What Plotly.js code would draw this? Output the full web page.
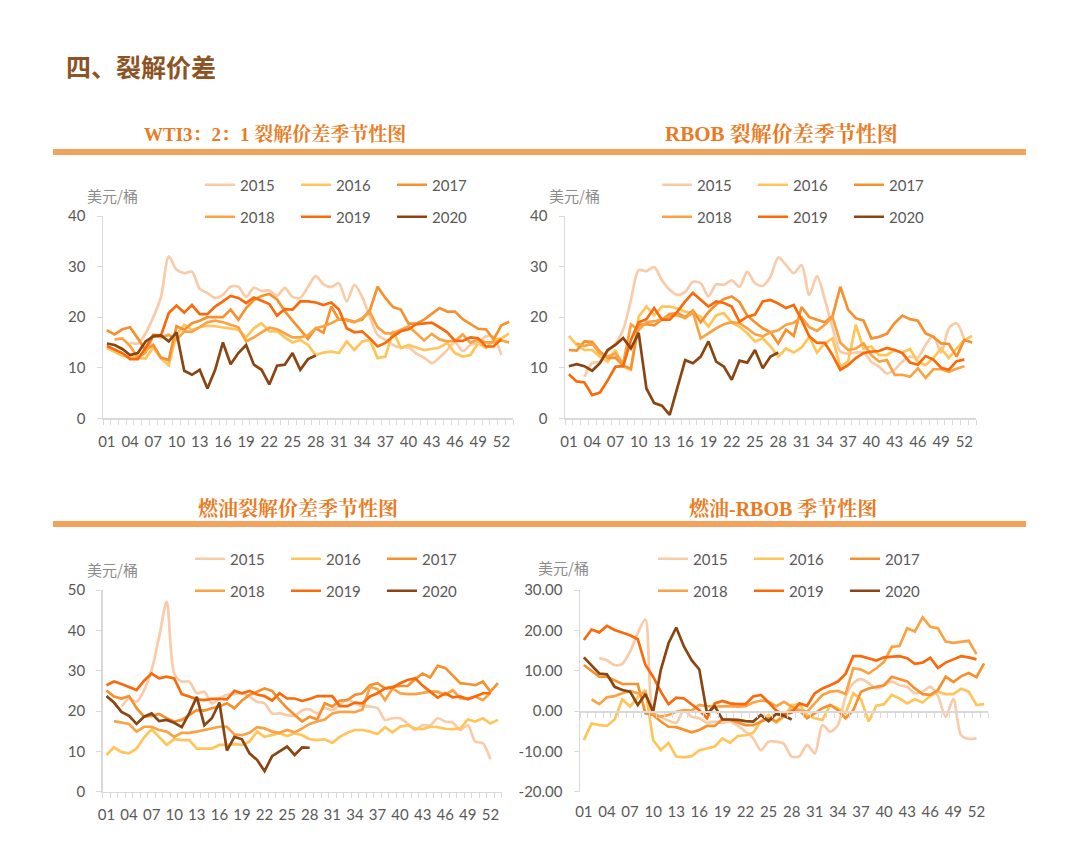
<!DOCTYPE html>
<html><head><meta charset="utf-8">
<script src="https://cdn.plot.ly/plotly-3.0.1.min.js"></script>
<style>html,body{margin:0;padding:0;background:#fff;}#chart{width:1080px;height:858px;}</style>
</head><body><div id="chart"></div>
<script>
// ---------- categories ----------
const weeks = [1,2,3,4,5,6,7,8,9,10,11,12,13,14,15,16,17,18,19,20,21,22,23,24,25,26,27,28,29,30,31,32,33,34,35,36,37,38,39,40,41,42,43,44,45,46,47,48,49,50,51,52,53];
const tickWeeks = [1,4,7,10,13,16,19,22,25,28,31,34,37,40,43,46,49,52];
const tickWeekLabels = ['01','04','07','10','13','16','19','22','25','28','31','34','37','40','43','46','49','52'];
const years = ['2015','2016','2017','2018','2019','2020'];

// ---------- WTI 3:2:1 crack ----------
const wti2015 = [null,null,null,15.0,14.8,16.8,20.0,24.0,32.0,29.4,28.7,29.0,25.6,24.8,23.8,24.4,26.0,26.0,24.0,25.8,25.2,25.3,24.2,25.8,24.0,23.8,26.0,28.1,26.5,26.0,26.7,23.1,26.4,24.0,20.0,16.5,15.5,14.5,14.0,14.0,12.8,12.0,10.9,12.0,13.5,15.0,13.3,14.5,15.0,16.2,16.0,12.5,null];
const wti2016 = [13.9,13.2,12.4,12.2,12.0,11.8,14.0,11.8,10.5,16.5,18.5,17.5,18.0,18.3,18.2,18.0,17.8,17.5,16.0,17.8,18.8,17.2,17.2,16.0,15.0,15.5,14.5,12.5,13.0,13.2,12.9,15.2,13.5,15.2,15.5,11.9,12.2,17.3,13.9,14.5,14.0,13.5,13.7,14.0,14.9,12.9,12.2,12.5,14.9,13.9,15.5,15.8,16.8];
const wti2017 = [17.4,16.6,17.6,18.0,15.8,13.5,14.5,12.0,11.5,18.2,17.5,18.8,19.3,20.0,20.0,20.0,21.5,19.5,21.8,23.4,24.2,24.6,23.5,21.2,19.3,17.5,15.7,17.8,16.9,22.1,19.5,19.5,19.1,19.5,21.4,26.0,23.8,22.0,21.5,18.7,18.7,19.5,20.6,21.8,21.1,21.1,19.6,18.6,17.7,17.6,15.6,18.4,19.1];
const wti2018 = [null,15.6,15.8,14.3,12.0,13.0,16.4,16.0,16.5,15.5,17.2,17.1,18.0,19.0,19.3,19.0,18.5,18.0,15.2,16.0,17.0,17.9,17.6,16.8,16.0,16.0,16.4,17.8,18.2,18.8,19.6,19.4,19.0,19.8,21.0,18.0,16.8,16.8,17.5,18.2,16.8,15.4,16.7,15.6,15.2,15.3,16.6,14.9,15.6,15.0,15.0,15.4,15.0];
const wti2019 = [14.3,13.6,12.9,11.7,11.7,13.9,16.5,16.4,20.8,22.3,20.9,22.4,20.6,20.6,22.1,23.1,24.2,23.8,22.8,23.9,23.2,22.6,20.3,21.6,21.5,23.1,23.1,22.9,22.4,22.9,21.5,17.8,17.0,17.2,15.8,14.2,14.9,16.2,17.2,17.6,18.6,18.8,18.9,18.0,17.0,15.3,15.3,16.0,15.8,14.2,14.2,15.7,null];
const wti2020 = [14.8,14.5,13.7,12.5,12.9,15.2,16.2,16.4,15.2,17.0,9.4,8.6,9.6,5.9,9.6,15.0,10.7,12.9,14.5,10.6,9.6,6.7,10.4,10.6,12.9,9.6,11.7,12.4];

// ---------- RBOB crack ----------
const rbob2015 = [null,null,8.2,10.9,11.2,13.2,14.8,17.5,23.4,29.3,29.1,29.9,27.3,25.4,24.4,25.0,27.0,26.7,24.1,26.5,26.4,27.3,26.0,29.0,26.7,26.2,28.0,31.8,30.3,28.7,30.3,24.4,28.1,23.5,18.0,13.2,12.8,13.0,13.0,11.2,10.2,8.9,9.6,11.2,12.2,12.0,14.5,16.3,13.0,17.8,18.8,15.5,null];
const rbob2016 = [16.3,14.5,13.5,13.5,12.2,11.2,13.5,10.2,9.6,20.1,22.1,20.4,22.1,22.1,21.7,21.1,20.8,20.1,18.1,20.4,20.8,18.9,18.1,16.8,15.2,15.8,14.2,12.2,13.8,13.0,14.0,16.1,13.0,14.8,15.8,10.2,11.2,18.5,13.8,14.2,12.5,12.5,13.5,13.0,13.7,11.2,10.5,11.9,13.8,11.9,13.8,15.5,16.3];
const rbob2017 = [13.5,13.4,15.2,15.1,13.2,11.9,12.0,10.4,9.8,18.5,18.6,18.4,19.5,20.6,20.8,20.0,21.3,19.0,21.0,22.5,23.6,24.1,23.0,20.3,19.0,17.8,17.0,14.8,17.5,16.3,22.0,20.0,19.5,19.0,20.2,26.0,21.5,19.8,19.3,15.8,16.1,16.7,18.8,20.3,19.6,19.3,16.8,16.1,14.8,14.7,12.2,15.5,15.0];
const rbob2018 = [null,14.8,14.3,14.8,12.8,12.2,12.8,10.8,18.6,17.5,19.0,19.2,19.5,20.2,20.4,19.8,21.0,15.8,16.8,17.8,18.6,19.0,18.8,17.8,16.6,16.2,17.0,17.4,18.5,18.9,20.0,18.0,17.3,18.5,20.0,15.0,13.5,13.8,14.8,12.5,11.2,11.5,8.6,8.6,8.2,9.9,8.0,9.7,9.7,9.2,9.8,10.3,null];
const rbob2019 = [8.7,7.3,7.1,4.6,5.1,7.5,10.2,10.3,15.5,19.0,19.6,21.8,19.5,19.5,21.1,23.1,24.8,23.4,22.1,23.1,22.8,22.1,19.1,20.1,20.5,23.1,23.4,22.7,21.8,22.4,19.5,16.2,14.9,14.9,12.5,9.6,10.5,11.9,12.9,13.2,13.3,13.9,13.5,12.9,11.0,10.6,12.3,11.6,10.0,9.6,11.3,11.6,null];
const rbob2020 = [10.3,10.7,10.3,9.4,10.9,13.5,14.5,15.9,13.8,16.9,5.9,3.0,2.5,0.7,6.1,11.5,10.9,12.2,15.2,11.2,10.2,7.6,11.4,11.0,13.5,9.9,12.2,13.0];

// ---------- Fuel oil crack ----------
const fo2015 = [null,null,21.1,23.1,22.3,25.2,30.2,38.4,47.1,29.3,27.3,27.3,24.4,24.8,21.9,23.1,24.0,24.2,24.4,23.6,22.3,21.9,19.4,19.4,19.0,18.8,20.2,20.4,19.4,20.7,20.2,21.5,22.9,21.9,21.2,21.1,20.7,17.8,18.2,18.2,16.9,15.3,16.5,16.4,18.2,17.4,17.1,15.3,16.5,12.4,12.0,8.0,null];
const fo2016 = [9.1,11.0,9.8,9.5,10.7,13.5,15.5,13.6,11.6,13.0,12.8,12.8,10.7,10.7,10.7,11.6,11.6,11.8,11.6,12.4,14.9,13.6,14.0,14.5,13.8,14.5,14.0,13.0,12.8,13.0,12.1,13.6,14.6,15.3,15.3,14.9,14.3,16.0,14.7,16.1,16.5,15.7,15.5,16.1,16.0,15.6,15.5,15.7,17.9,17.4,18.2,16.9,17.8];
const fo2017 = [25.1,23.6,23.1,23.7,20.7,18.6,18.8,19.3,18.2,17.4,17.8,19.0,20.2,20.1,20.7,21.1,21.9,20.7,22.6,24.0,24.8,25.6,25.0,22.7,20.7,19.0,17.4,18.6,17.9,21.9,21.1,22.6,22.7,24.0,24.4,26.4,26.9,25.6,26.0,26.2,26.2,27.9,29.3,28.3,31.2,30.7,28.7,26.9,26.7,26.4,27.3,24.8,26.9];
const fo2018 = [null,17.5,17.1,16.8,14.9,16.1,16.1,15.3,14.9,13.6,14.6,14.6,14.9,15.3,15.7,16.1,16.1,14.2,14.0,14.6,16.0,15.7,14.9,14.6,15.3,14.7,15.7,16.8,17.4,17.9,19.4,19.8,19.8,19.7,20.4,26.0,25.4,22.7,25.6,24.4,24.2,24.2,24.5,24.8,24.8,24.0,25.2,23.1,23.1,23.6,22.7,24.5,null];
const fo2019 = [26.4,27.3,26.7,26.0,25.2,27.5,29.3,28.1,28.5,28.1,24.2,23.6,22.9,22.7,23.0,23.0,22.9,25.0,24.4,25.0,24.1,23.7,22.6,24.4,23.1,23.1,22.5,23.0,23.7,23.7,23.7,21.2,21.2,22.1,21.9,23.6,24.4,25.6,25.8,26.9,27.7,28.1,26.3,24.8,23.3,24.4,23.4,23.6,22.9,23.6,24.4,24.4,null];
const fo2020 = [23.7,22.1,19.8,18.8,16.8,18.6,19.4,17.5,17.8,17.1,16.0,19.5,23.5,16.5,18.2,22.1,10.2,13.6,13.0,9.5,7.9,5.1,8.8,9.9,11.2,9.1,11.0,10.9];

// ---------- Fuel oil - RBOB ----------
const fr2015 = [null,null,13.1,12.6,11.4,11.7,14.7,19.3,22.7,-0.2,-1.4,-2.4,-2.9,0.2,-1.4,-1.8,-2.9,-2.6,-2.9,-2.6,-3.7,-5.1,-6.8,-9.7,-7.6,-7.6,-8.2,-11.3,-11.2,-8.4,-10.5,-3.5,-5.1,-3.5,3.6,6.9,7.9,6.9,5.6,6.4,7.3,6.4,6.0,4.4,4.8,6.0,3.7,-1.4,3.0,-6.0,-6.9,-6.8,null];
const fr2016 = [-7.2,-3.1,-3.5,-3.7,-2.1,2.9,1.1,3.4,5.2,-7.2,-9.7,-7.9,-11.3,-11.5,-11.2,-9.7,-9.3,-8.8,-6.8,-7.9,-6.2,-6.0,-5.4,-2.6,-1.0,-2.9,-1.4,1.5,1.7,-1.0,-1.8,-2.2,1.5,0.7,-0.6,4.4,2.9,-2.6,1.3,1.7,4.0,3.1,1.9,2.9,2.1,3.7,4.8,4.2,4.2,5.5,4.8,1.5,1.7];
const fr2017 = [11.4,10.0,8.5,8.5,7.7,6.7,6.7,6.7,-0.6,-1.0,-2.6,-3.9,-4.0,-4.7,-5.3,-4.7,-3.7,-3.7,-2.1,-2.2,-2.9,-3.5,-3.5,-2.6,-1.8,-2.6,-1.0,0.2,0.2,-1.8,-0.6,0.7,1.5,0.2,-1.8,0.2,4.8,5.6,6.0,6.4,8.5,7.9,7.3,5.6,4.2,4.0,5.2,8.5,7.2,8.6,9.4,8.4,11.8];
const fr2018 = [null,2.9,1.7,3.4,3.7,4.4,5.0,4.4,4.5,-0.8,-1.4,-1.0,-0.2,0.2,0.1,1.5,1.2,1.1,1.2,1.2,1.1,1.2,2.1,2.6,2.3,1.2,2.3,1.1,0.2,-0.2,1.9,4.0,4.8,5.0,4.2,10.6,10.3,9.3,10.6,12.2,15.9,16.1,20.5,19.7,23.2,20.9,20.5,17.2,16.9,17.2,17.4,14.1,null];
const fr2019 = [17.6,20.2,19.5,21.1,20.1,19.4,18.8,17.8,11.4,8.5,4.8,1.7,3.3,3.1,1.7,0.2,-1.8,1.9,2.5,1.9,1.7,1.7,3.6,4.0,2.1,0.1,-0.8,-0.4,1.9,1.3,4.4,5.6,6.4,7.3,9.2,13.6,13.6,13.1,12.5,13.3,13.5,13.6,13.1,11.7,12.0,13.2,10.7,12.0,12.8,13.6,13.3,12.8,null];
const fr2020 = [13.3,11.2,9.3,9.1,6.0,5.2,4.8,1.5,4.2,-0.2,10.2,16.8,20.7,16.0,12.6,10.3,-0.6,1.2,-2.1,-2.1,-2.2,-2.5,-2.6,-1.0,-2.5,-0.7,-1.2,-2.1];

const fr4TickVals = [-20,-10,0,10,20,30];
const fr4TickText = ['-20.00','-10.00','0.00','10.00','20.00','30.00'];

// ---------- styling ----------
const yearColors = ['#F9CBA8','#FFC55A','#F5922F','#FAA344','#FA6A0A','#8A4512'];
const W = 1080, H = 858;
const fx = px => px / W;
const fy = py => 1 - py / H;
const tickFont = {family: 'Lato, "Liberation Sans", sans-serif', size: 15, color: '#595959'};
const gridGrey = '#d9d9d9';

const charts = [
  {series:[wti2015,wti2016,wti2017,wti2018,wti2019,wti2020], xa:'x', ya:'y', legends:['legend','legend2']},
  {series:[rbob2015,rbob2016,rbob2017,rbob2018,rbob2019,rbob2020], xa:'x2', ya:'y2', legends:['legend3','legend4']},
  {series:[fo2015,fo2016,fo2017,fo2018,fo2019,fo2020], xa:'x3', ya:'y3', legends:['legend5','legend6']},
  {series:[fr2015,fr2016,fr2017,fr2018,fr2019,fr2020], xa:'x4', ya:'y4', legends:['legend7','legend8']}
];

const traces = [];
charts.forEach(c => {
  c.series.forEach((s, j) => {
    traces.push({
      type: 'scatter', mode: 'lines', name: years[j],
      x: weeks, y: s, xaxis: c.xa, yaxis: c.ya,
      legend: c.legends[j < 3 ? 0 : 1],
      line: {color: yearColors[j], width: 2.7, shape: j === 0 ? 'spline' : 'linear', smoothing: 0.8},
      connectgaps: false, hoverinfo: 'skip'
    });
  });
});
// label-only bottom axis of chart 4 needs a (blank) trace to exist
traces.push({type:'scatter', mode:'lines', x:[null], y:[null], xaxis:'x5', yaxis:'y4', showlegend:false, hoverinfo:'skip'});

function xAxis(d0, d1, anchor, extra) {
  return Object.assign({
    domain: [fx(d0), fx(d1)], anchor: anchor, range: [0.5, 53.5],
    tickmode: 'array', tickvals: tickWeeks, ticktext: tickWeekLabels,
    ticks: '', showline: true, linecolor: gridGrey, linewidth: 1.5,
    showgrid: false, zeroline: false, tickfont: tickFont, ticklabelstandoff: 9,
    minor: {tickmode: 'linear', tick0: 0.5, dtick: 1, ticks: 'outside', ticklen: 5, tickcolor: gridGrey, tickwidth: 1, showgrid: false},
    fixedrange: true
  }, extra || {});
}
function yAxis(p0, p1, anchor, range, extra) {
  return Object.assign({
    domain: [fy(p0), fy(p1)], anchor: anchor, range: range,
    tickmode: 'linear', tick0: 0, dtick: 10,
    ticks: 'outside', ticklen: 5, tickcolor: gridGrey, tickwidth: 1,
    showline: true, linecolor: gridGrey, linewidth: 1.5,
    showgrid: false, zeroline: false, tickfont: tickFont, ticklabelstandoff: 8,
    fixedrange: true
  }, extra || {});
}

function legendAt(px, py) {
  return {
    orientation: 'h', x: fx(px), y: fy(py), xanchor: 'left', yanchor: 'middle',
    bgcolor: 'rgba(0,0,0,0)', borderwidth: 0,
    font: {family: 'Lato, "Liberation Sans", sans-serif', size: 15, color: '#595959'},
    entrywidth: 51, entrywidthmode: 'pixels', itemwidth: 30, traceorder: 'normal'
  };
}

const zeroPos = fy(791.7) + (fy(590) - fy(791.7)) * (20 / 50);

const subFont = {family: '"Liberation Serif", "Noto Serif CJK SC", "Noto Sans CJK SC", serif', size: 20, color: '#E97B23', weight: 'bold'};
const unitFont = {family: '"Noto Sans CJK SC", sans-serif', size: 15, color: '#8c8c8c'};

const layout = {
  width: W, height: H, margin: {l: 0, r: 0, t: 0, b: 0},
  paper_bgcolor: '#fff', plot_bgcolor: 'rgba(0,0,0,0)',
  showlegend: true, hovermode: false,
  xaxis: xAxis(103, 513, 'y'),
  yaxis: yAxis(418.3, 216, 'x', [0, 40]),
  xaxis2: xAxis(565, 976, 'y2'),
  yaxis2: yAxis(418.3, 216, 'x2', [0, 40]),
  xaxis3: xAxis(102.7, 501.7, 'y3'),
  yaxis3: yAxis(791.7, 590, 'x3', [0, 50]),
  xaxis4: xAxis(580, 988, 'free', {position: zeroPos, showticklabels: false}),
  yaxis4: yAxis(791.7, 590, 'x4', [-20, 30], {tickmode: 'array', tickvals: fr4TickVals, ticktext: fr4TickText}),
  xaxis5: xAxis(580, 988, 'y4', {overlaying: 'x4', showline: false, minor: {ticks: ''}}),
  legend: legendAt(200, 185), legend2: legendAt(200, 217),
  legend3: legendAt(657, 185), legend4: legendAt(657, 217),
  legend5: legendAt(190, 559), legend6: legendAt(190, 591),
  legend7: legendAt(653, 559), legend8: legendAt(653, 591),
  shapes: [
    {type: 'rect', xref: 'paper', yref: 'paper', x0: fx(53), x1: fx(1026), y0: fy(155), y1: fy(149), fillcolor: '#F5A35C', line: {width: 0}},
    {type: 'rect', xref: 'paper', yref: 'paper', x0: fx(53), x1: fx(1026), y0: fy(527), y1: fy(521), fillcolor: '#F5A35C', line: {width: 0}}
  ],
  annotations: [
    {xref:'paper', yref:'paper', x: fx(64), y: fy(66), xanchor:'left', yanchor:'middle', showarrow:false, text:'四、裂解价差',
     font:{family:'"Noto Sans CJK SC", sans-serif', size:25, color:'#8C5424', weight:'bold'}},
    {xref:'paper', yref:'paper', x: fx(275), y: fy(134), xanchor:'center', yanchor:'middle', showarrow:false, text:'WTI3：2：1 裂解价差季节性图', font: Object.assign({}, subFont, {size: 19})},
    {xref:'paper', yref:'paper', x: fx(781), y: fy(134), xanchor:'center', yanchor:'middle', showarrow:false, text:'RBOB 裂解价差季节性图', font: Object.assign({}, subFont, {size: 21})},
    {xref:'paper', yref:'paper', x: fx(297), y: fy(509), xanchor:'center', yanchor:'middle', showarrow:false, text:'燃油裂解价差季节性图', font: subFont},
    {xref:'paper', yref:'paper', x: fx(782), y: fy(509), xanchor:'center', yanchor:'middle', showarrow:false, text:'燃油-RBOB 季节性图', font: subFont},
    {xref:'paper', yref:'paper', x: fx(85), y: fy(195), xanchor:'left', yanchor:'middle', showarrow:false, text:'美元/桶', font: unitFont},
    {xref:'paper', yref:'paper', x: fx(547), y: fy(195), xanchor:'left', yanchor:'middle', showarrow:false, text:'美元/桶', font: unitFont},
    {xref:'paper', yref:'paper', x: fx(85), y: fy(569), xanchor:'left', yanchor:'middle', showarrow:false, text:'美元/桶', font: unitFont},
    {xref:'paper', yref:'paper', x: fx(536), y: fy(567), xanchor:'left', yanchor:'middle', showarrow:false, text:'美元/桶', font: unitFont}
  ]
};

Plotly.newPlot('chart', traces, layout, {displayModeBar: false, staticPlot: true});
</script>
</body></html>
